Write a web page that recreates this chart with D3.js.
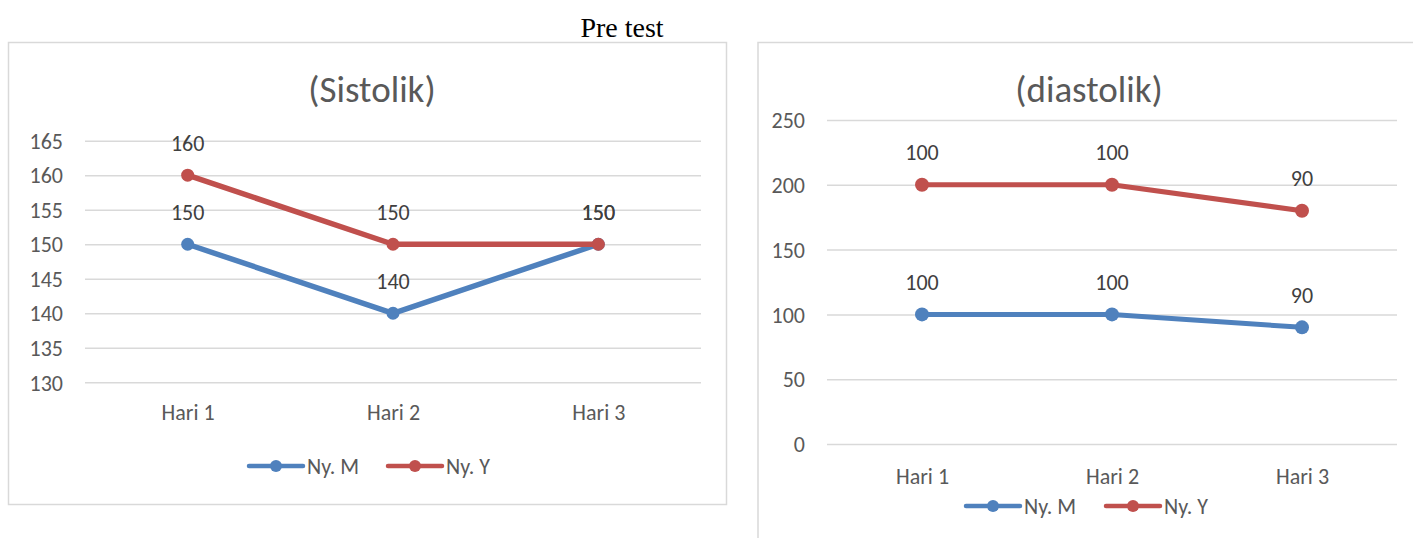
<!DOCTYPE html>
<html>
<head>
<meta charset="utf-8">
<script src="https://cdn.jsdelivr.net/npm/d3@7"></script>
<style>
  html, body { margin: 0; padding: 0; background: #ffffff; }
  svg { display: block; }
</style>
</head>
<body>
<svg id="chart" width="1413" height="538"></svg>
<script>
// ---------- data ----------
const pageTitle = "Pre test";
const categories = ["Hari 1", "Hari 2", "Hari 3"];
const seriesNames = ["Ny. M", "Ny. Y"];
const seriesColors = ["#4F81BD", "#C0504D"];

const sistolikTitle = "(Sistolik)";
const sistolikM = [150, 140, 150];
const sistolikY = [160, 150, 150];
const sistolikTicks = [130, 135, 140, 145, 150, 155, 160, 165];

const diastolikTitle = "(diastolik)";
const diastolikM = [100, 100, 90];
const diastolikY = [100, 100, 90];   // stacked line on top of Ny. M
const diastolikTicks = [0, 50, 100, 150, 200, 250];

// ---------- drawing ----------
const FONT = "Carlito, Lato, 'Open Sans', sans-serif";
const svg = d3.select("#chart");

svg.append("text")
  .attr("x", 622).attr("y", 27)
  .attr("text-anchor", "middle").attr("dominant-baseline", "central")
  .style("font-family", "'Liberation Serif', 'Times New Roman', serif")
  .style("font-size", "28px").style("fill", "#000")
  .text(pageTitle);

function drawPanel(cfg) {
  const g = svg.append("g");
  // frame
  g.append("rect")
    .attr("x", cfg.frame[0]).attr("y", cfg.frame[1])
    .attr("width", cfg.frame[2]).attr("height", cfg.frame[3])
    .attr("fill", "#fff").attr("stroke", "#d9d9d9").attr("stroke-width", 1.5);

  // title
  g.append("text")
    .attr("x", cfg.titleX).attr("y", cfg.titleY)
    .attr("text-anchor", "middle").attr("dominant-baseline", "central")
    .style("font-family", FONT).style("font-size", "37px").style("fill", "#595959")
    .text(cfg.title);

  const x = d3.scalePoint().domain(categories).range([cfg.plotX0, cfg.plotX1]).padding(0.5);
  const y = d3.scaleLinear().domain(cfg.yDomain).range([cfg.plotY1, cfg.plotY0]);

  // gridlines + y labels via axis
  const yAxis = d3.axisLeft(y).tickValues(cfg.ticks).tickSize(-(cfg.plotX1 - cfg.plotX0)).tickPadding(22).tickFormat(d3.format("d"));
  const ay = g.append("g").attr("transform", `translate(${cfg.plotX0},0)`).call(yAxis);
  ay.select(".domain").remove();
  ay.selectAll(".tick line").attr("stroke", "#d9d9d9").attr("stroke-width", 1.5);
  ay.selectAll(".tick text")
    .style("font-family", FONT).style("font-size", "22px").style("fill", "#595959")
    .attr("dy", "0.35em");

  // x labels via axis
  const xAxis = d3.axisBottom(x).tickSize(0).tickPadding(0);
  const ax = g.append("g").attr("transform", `translate(0,${cfg.xLabelY})`).call(xAxis);
  ax.select(".domain").remove();
  ax.selectAll(".tick text")
    .style("font-family", FONT).style("font-size", "22px").style("fill", "#595959")
    .attr("dy", "0.35em").attr("y", 0);

  const line = d3.line().x((d, i) => x(categories[i])).y(d => y(d));

  cfg.series.forEach((s, si) => {
    g.append("path")
      .datum(s.plot)
      .attr("d", line)
      .attr("fill", "none")
      .attr("stroke", seriesColors[si])
      .attr("stroke-width", cfg.lineW)
      .attr("stroke-linejoin", "round");
    g.selectAll(null).data(s.plot).enter().append("circle")
      .attr("cx", (d, i) => x(categories[i]))
      .attr("cy", d => y(d))
      .attr("r", cfg.markerR)
      .attr("fill", seriesColors[si]);
  });
  cfg.series.forEach((s, si) => {
    g.selectAll(null).data(s.plot).enter().append("text")
      .attr("x", (d, i) => x(categories[i]))
      .attr("y", d => y(d) - 32)
      .attr("text-anchor", "middle").attr("dominant-baseline", "central")
      .style("font-family", FONT).style("font-size", "22px").style("fill", "#404040")
      .text((d, i) => s.label[i]);
  });

  // legend
  cfg.legend.forEach((lx, si) => {
    const lg = g.append("g").attr("transform", `translate(${lx},${cfg.legendY})`);
    lg.append("line").attr("x1", 0).attr("x2", 54).attr("y1", 0).attr("y2", 0)
      .attr("stroke", seriesColors[si]).attr("stroke-width", 4.5).attr("stroke-linecap", "round");
    lg.append("circle").attr("cx", 27).attr("cy", 0).attr("r", 6).attr("fill", seriesColors[si]);
    lg.append("text").attr("x", 58).attr("y", 0)
      .attr("dominant-baseline", "central")
      .style("font-family", FONT).style("font-size", "22px").style("fill", "#595959")
      .text(seriesNames[si]);
  });
}

drawPanel({
  frame: [8.5, 42.5, 718, 462],
  title: sistolikTitle, titleX: 372, titleY: 89,
  plotX0: 85, plotX1: 701, plotY0: 140.7, plotY1: 382.3,
  yDomain: [130, 165], ticks: sistolikTicks,
  xLabelY: 412,
  lineW: 5.5, markerR: 6.5,
  series: [
    { plot: sistolikM, label: sistolikM },
    { plot: sistolikY, label: sistolikY }
  ],
  legend: [249, 388], legendY: 466
});

drawPanel({
  frame: [758, 42.5, 700, 520],
  title: diastolikTitle, titleX: 1089, titleY: 89,
  plotX0: 827, plotX1: 1397, plotY0: 120, plotY1: 444,
  yDomain: [0, 250], ticks: diastolikTicks,
  xLabelY: 476,
  lineW: 5, markerR: 7,
  series: [
    { plot: diastolikM, label: diastolikM },
    { plot: diastolikM.map((v, i) => v + diastolikY[i]), label: diastolikY }
  ],
  legend: [966, 1106], legendY: 506
});
</script>
</body>
</html>
